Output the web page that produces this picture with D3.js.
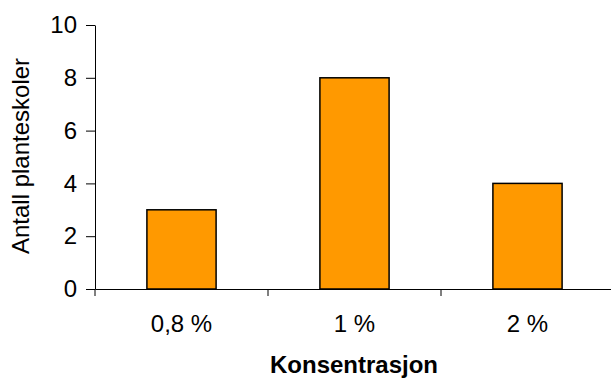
<!DOCTYPE html>
<html><head><meta charset="utf-8">
<script src="https://cdn.jsdelivr.net/npm/d3@7"></script>
<style>body{margin:0;background:#fff}svg{display:block}text{font-family:"Liberation Sans",Arial,sans-serif}</style>
</head><body>
<svg id="c" width="611" height="378"></svg>
<script>
const categories = ["0,8 %", "1 %", "2 %"];
const values = [3, 8, 4];
const yTicks = [0, 2, 4, 6, 8, 10];
const yTitle = "Antall planteskoler";
const xTitle = "Konsentrasjon";

const svg = d3.select("#c");
const mLeft = 95, mRight = 614, mTop = 25, mBottom = 289;
const FS = 24;
const x = d3.scaleBand().domain(categories).range([mLeft, mRight]).padding(0);
const y = d3.scaleLinear().domain([0, 10]).range([mBottom, mTop]);

// y axis
const ya = svg.append("g").attr("transform", `translate(${mLeft},0)`)
  .call(d3.axisLeft(y).tickValues(yTicks).tickSize(9).tickPadding(9).tickSizeOuter(0));
ya.attr("font-size", FS).attr("font-family", null);
ya.select(".domain").attr("stroke", "#000");
ya.selectAll(".tick line").attr("stroke", "#000");
ya.selectAll("text").attr("fill", "#000");

// bars
const bw = x.bandwidth() * 0.4;
svg.append("g").selectAll("rect").data(values).join("rect")
  .attr("x", (d, i) => x(categories[i]) + x.bandwidth() / 2 - bw / 2)
  .attr("y", d => y(d))
  .attr("width", bw)
  .attr("height", d => y(0) - y(d))
  .attr("fill", "#FF9900")
  .attr("stroke", "#000")
  .attr("stroke-width", 1.5);

// x axis
const xa = svg.append("g").attr("transform", `translate(0,${mBottom})`)
  .call(d3.axisBottom(x).tickSize(0).tickPadding(26).tickSizeOuter(0));
xa.attr("font-size", FS).attr("font-family", null);
xa.select(".domain").attr("stroke", "#000");
xa.selectAll("text").attr("fill", "#000");
// boundary ticks
xa.append("g").selectAll("line").data(categories).join("line")
  .attr("x1", d => x(d)).attr("x2", d => x(d))
  .attr("y1", 0).attr("y2", 7).attr("stroke", "#000");

// titles
svg.append("text").attr("x", 354).attr("y", 373).attr("text-anchor", "middle")
  .attr("font-size", FS).attr("font-weight", "bold").text(xTitle);
svg.append("text").attr("transform", "translate(29,156) rotate(-90)")
  .attr("text-anchor", "middle").attr("font-size", FS).text(yTitle);
</script>
</body></html>
